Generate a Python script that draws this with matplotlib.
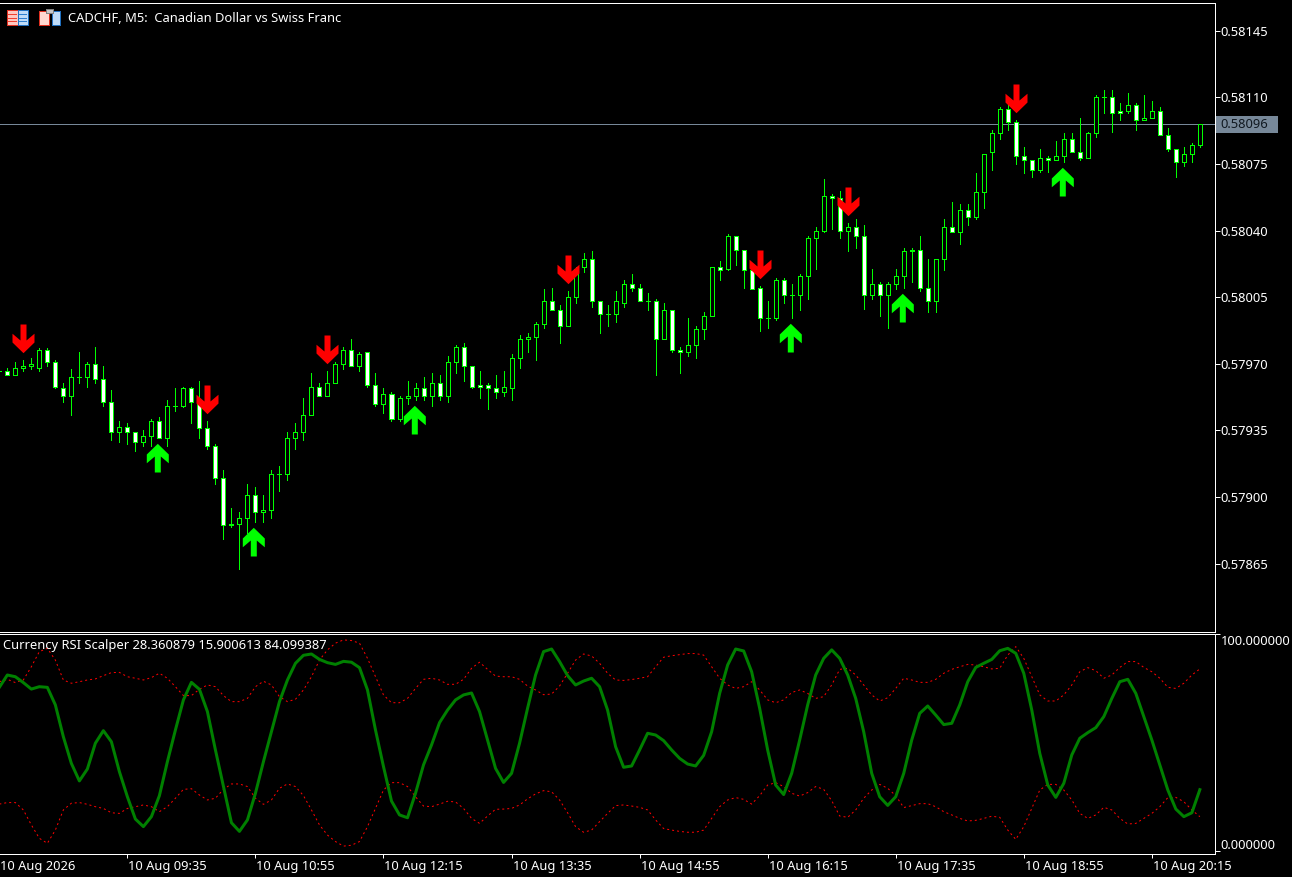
import matplotlib
matplotlib.use('Agg')
import matplotlib.pyplot as plt
import numpy as np
from matplotlib.patches import Rectangle
from matplotlib.path import Path

# Candles of CADCHF M5, in points (0.00001)
opens = [57966, 57966, 57964, 57968, 57969, 57968, 57977, 57971, 57957, 57953, 57963, 57963, 57970, 57962, 57950, 57934,
         57937, 57934, 57929, 57932, 57940, 57931, 57948, 57948, 57957, 57950, 57936, 57927, 57910, 57885, 57886, 57889,
         57901, 57892, 57893, 57912, 57912, 57931, 57934, 57943, 57958, 57953, 57960, 57970, 57977, 57969, 57976, 57959,
         57949, 57954, 57941, 57952, 57953, 57957, 57953, 57960, 57953, 57971, 57979, 57969, 57959, 57959, 57957, 57955,
         57957, 57973, 57983, 57984, 57991, 58003, 57998, 57990, 58005, 58021, 58025, 58003, 57996, 57996, 58002, 58012,
         58010, 58003, 58003, 57983, 57998, 57977, 57976, 57980, 57988, 57995, 58021, 58020, 58037, 58030, 58019, 58010,
         57994, 57994, 58014, 58006, 58006, 58016, 58036, 58040, 58058, 58057, 58040, 58042, 58037, 58006, 58012, 58006,
         58012, 58016, 58030, 58030, 58010, 58003, 58025, 58042, 58039, 58051, 58047, 58060, 58081, 58091, 58104, 58097,
         58079, 58077, 58072, 58078, 58077, 58079, 58088, 58081, 58078, 58091, 58110, 58110, 58103, 58103, 58106, 58098,
         58099, 58103, 58090, 58083, 58076, 58080, 58085]
highs = [57966, 57968, 57971, 57972, 57973, 57978, 57978, 57972, 57960, 57967, 57976, 57971, 57979, 57969, 57956, 57940,
         57939, 57934, 57935, 57941, 57942, 57951, 57957, 57958, 57958, 57961, 57940, 57928, 57914, 57894, 57892, 57907,
         57905, 57901, 57914, 57916, 57934, 57939, 57952, 57965, 57960, 57966, 57971, 57979, 57983, 57976, 57976, 57965,
         57957, 57955, 57953, 57961, 57960, 57963, 57965, 57964, 57974, 57980, 57981, 57969, 57966, 57960, 57964, 57966,
         57975, 57985, 57986, 57992, 58009, 58010, 58001, 58008, 58021, 58028, 58029, 58003, 58001, 58008, 58014, 58017,
         58012, 58007, 58004, 58002, 57998, 57979, 57994, 57990, 57997, 58021, 58024, 58038, 58037, 58030, 58023, 58011,
         58003, 58015, 58015, 58012, 58017, 58037, 58042, 58067, 58059, 58061, 58044, 58046, 58043, 58020, 58013, 58013,
         58020, 58031, 58031, 58037, 58025, 58025, 58046, 58055, 58054, 58054, 58070, 58080, 58093, 58105, 58106, 58098,
         58084, 58077, 58083, 58079, 58087, 58091, 58091, 58099, 58092, 58111, 58114, 58114, 58107, 58112, 58107, 58111,
         58108, 58105, 58094, 58083, 58084, 58086, 58096]
lows = [57966, 57964, 57964, 57966, 57967, 57966, 57969, 57957, 57950, 57943, 57960, 57958, 57960, 57948, 57930, 57929,
        57928, 57924, 57927, 57927, 57931, 57927, 57945, 57947, 57939, 57931, 57925, 57907, 57878, 57884, 57862, 57881,
        57887, 57887, 57889, 57903, 57909, 57925, 57930, 57943, 57953, 57953, 57960, 57967, 57969, 57966, 57958, 57948,
        57944, 57940, 57940, 57949, 57951, 57951, 57948, 57951, 57950, 57965, 57961, 57957, 57952, 57946, 57952, 57953,
        57951, 57968, 57976, 57972, 57989, 57998, 57981, 57990, 58002, 58018, 58000, 57986, 57990, 57992, 58000, 58008,
        58003, 57998, 57964, 57983, 57976, 57965, 57974, 57973, 57983, 57995, 58014, 58019, 58022, 58010, 58009, 57987,
        57989, 57993, 58002, 57994, 57998, 58004, 58020, 58039, 58041, 58036, 58029, 58031, 57999, 58004, 57995, 57989,
        58009, 58010, 58013, 58008, 57997, 57997, 58019, 58039, 58033, 58043, 58046, 58052, 58072, 58088, 58093, 58075,
        58070, 58068, 58071, 58071, 58077, 58076, 58081, 58077, 58078, 58089, 58102, 58092, 58098, 58102, 58093, 58098,
        58099, 58090, 58082, 58068, 58074, 58076, 58084]
closes = [57966, 57964, 57968, 57969, 57970, 57977, 57971, 57958, 57953, 57963, 57963, 57970, 57962, 57950, 57934, 57937,
          57934, 57929, 57932, 57940, 57931, 57948, 57948, 57957, 57950, 57936, 57927, 57910, 57885, 57886, 57889, 57901,
          57892, 57893, 57912, 57912, 57931, 57934, 57943, 57958, 57953, 57960, 57970, 57977, 57969, 57975, 57959, 57949,
          57954, 57941, 57952, 57953, 57957, 57953, 57960, 57953, 57971, 57979, 57969, 57958, 57958, 57957, 57955, 57958,
          57973, 57983, 57984, 57991, 58003, 57998, 57990, 58005, 58020, 58025, 58003, 57996, 57996, 58003, 58012, 58010,
          58003, 58003, 57983, 57998, 57977, 57976, 57980, 57988, 57995, 58021, 58019, 58037, 58030, 58019, 58009, 57994,
          57994, 58014, 58006, 58006, 58016, 58036, 58040, 58058, 58057, 58040, 58042, 58037, 58006, 58012, 58006, 58012,
          58016, 58029, 58029, 58010, 58003, 58025, 58042, 58039, 58051, 58047, 58060, 58080, 58091, 58104, 58097, 58079,
          58077, 58072, 58078, 58077, 58079, 58088, 58081, 58078, 58091, 58110, 58110, 58102, 58102, 58106, 58098, 58099,
          58103, 58090, 58083, 58076, 58080, 58085, 58096]

# Indicator buffers, 0..100
rsi_line = [75.6, 81.3, 80.5, 77.8, 74.8, 75.9, 75.6, 67.5, 52.8, 40.5, 32.4, 37.9, 49.8, 55.6, 50.5, 36.7, 25.1, 14.8,
            11.3, 15.9, 25.6, 41.3, 55.9, 69.8, 77.9, 74.7, 64.4, 46.7, 29.8, 13.1, 9.1, 14.4, 26.7, 41.3, 55.1, 69.0,
            79.0, 86.7, 90.4, 91.0, 88.5, 87.0, 86.2, 87.6, 87.2, 84.7, 74.4, 55.9, 39.0, 23.1, 16.7, 15.4, 26.7, 39.8,
            49.0, 59.3, 65.1, 69.8, 72.1, 73.0, 64.4, 51.3, 38.2, 31.7, 35.9, 49.8, 65.9, 81.3, 92.1, 93.3, 87.5, 81.0,
            76.7, 78.5, 79.8, 75.9, 65.1, 48.2, 38.7, 39.3, 46.7, 54.4, 53.6, 51.0, 46.7, 42.8, 40.2, 39.3, 44.2, 55.1,
            72.8, 85.9, 93.3, 92.4, 82.8, 65.9, 46.7, 30.5, 26.1, 35.9, 51.3, 67.5, 81.3, 89.0, 92.9, 89.0, 81.3, 70.5,
            55.1, 35.9, 25.1, 21.1, 25.1, 35.9, 51.3, 63.6, 67.0, 62.8, 58.4, 59.0, 67.5, 78.2, 84.8, 86.7, 88.5, 92.5,
            93.6, 91.3, 82.1, 65.1, 45.1, 30.5, 24.8, 31.3, 44.4, 52.1, 54.7, 57.0, 62.1, 70.5, 78.2, 79.3, 72.8, 62.1,
            51.3, 39.8, 28.2, 19.4, 15.9, 17.7, 28.360879]
upper_band = [78.2, 79.3, 77.8, 79.0, 85.1, 92.1, 93.6, 88.2, 79.0, 77.5, 78.2, 79.0, 79.5, 81.0, 82.4, 82.5, 80.5, 79.8,
              79.0, 80.1, 82.1, 79.8, 75.9, 71.8, 71.8, 74.7, 76.7, 75.9, 71.8, 69.0, 69.0, 70.5, 75.9, 78.4, 76.7, 71.3,
              69.0, 70.1, 74.4, 80.5, 88.2, 92.9, 96.0, 97.5, 97.2, 96.0, 89.0, 80.5, 72.1, 68.5, 68.5, 70.5, 75.1, 79.3,
              79.8, 79.0, 77.0, 77.0, 79.3, 84.4, 87.2, 83.9, 80.8, 80.5, 80.5, 79.3, 76.2, 74.4, 72.2, 72.5, 76.2, 82.1,
              88.2, 91.0, 90.1, 86.7, 82.1, 79.0, 78.8, 79.2, 79.8, 80.5, 85.1, 89.5, 90.2, 90.7, 91.2, 91.2, 90.5, 85.1,
              79.8, 76.7, 75.1, 75.9, 78.2, 74.4, 69.8, 68.5, 69.8, 73.2, 74.4, 72.8, 70.5, 71.3, 76.7, 83.9, 84.4, 81.3,
              76.7, 72.1, 69.3, 70.8, 75.1, 79.8, 79.0, 77.9, 77.9, 79.3, 82.1, 83.9, 85.1, 86.2, 85.9, 85.1, 84.1, 84.4,
              90.5, 94.4, 89.0, 80.5, 72.1, 69.3, 69.3, 72.1, 76.7, 82.8, 84.7, 83.3, 79.8, 81.3, 84.8, 87.5, 87.5, 84.8,
              82.8, 79.8, 75.6, 75.1, 77.5, 81.3, 84.099387]
lower_band = [21.7, 22.4, 22.4, 19.0, 12.1, 5.9, 3.6, 9.7, 19.0, 22.1, 22.4, 21.6, 20.5, 19.7, 17.7, 17.4, 19.7, 20.5,
              21.3, 20.5, 18.2, 20.5, 24.4, 28.5, 28.8, 25.9, 23.6, 24.4, 28.5, 31.0, 31.0, 29.8, 24.4, 21.6, 23.6, 29.0,
              31.0, 29.8, 25.6, 19.0, 12.1, 7.4, 4.4, 2.3, 2.7, 4.4, 11.3, 19.7, 28.2, 31.6, 31.6, 29.8, 25.1, 20.8,
              20.5, 21.7, 23.0, 22.7, 19.7, 15.1, 12.8, 16.2, 19.3, 19.4, 19.7, 21.3, 24.1, 26.4, 27.9, 27.4, 23.6, 17.7,
              11.3, 8.7, 9.7, 13.6, 17.4, 21.0, 21.3, 20.8, 20.2, 19.0, 14.4, 10.4, 9.7, 9.1, 8.7, 8.7, 9.7, 15.1,
              20.5, 23.6, 24.7, 23.9, 21.7, 25.6, 30.5, 31.6, 29.8, 26.7, 25.4, 27.0, 29.8, 28.5, 23.3, 16.2, 15.6, 19.0,
              24.4, 28.2, 30.8, 29.0, 25.6, 20.1, 21.0, 21.9, 21.9, 20.5, 18.2, 16.7, 15.1, 13.9, 14.2, 15.1, 16.1, 15.6,
              9.7, 5.4, 11.3, 19.7, 28.2, 30.8, 30.8, 28.2, 23.6, 17.4, 15.1, 16.7, 20.2, 19.0, 15.1, 12.5, 12.8, 15.1,
              17.4, 20.5, 24.7, 24.8, 22.8, 19.0, 15.900613]

# Bars that carry a signal arrow
sell_bars = [3, 26, 41, 71, 95, 106, 127]
buy_bars = [20, 32, 52, 99, 113, 133]

price_ticks = [0.58145, 0.58110, 0.58075, 0.58040, 0.58005, 0.57970, 0.57935, 0.57900, 0.57865]
bid_price = 0.58096
time_tick_bars = [0, 16, 32, 48, 64, 80, 96, 112, 128, 144]
time_labels = ['10 Aug 2026', '10 Aug 09:35', '10 Aug 10:55', '10 Aug 12:15', '10 Aug 13:35',
               '10 Aug 14:55', '10 Aug 16:15', '10 Aug 17:35', '10 Aug 18:55', '10 Aug 20:15']

WIDTH, HEIGHT, DPI = 1292, 877, 100
LIME = '#00ff00'
GREY = '#778899'
FONT = 'Noto Sans'
FONT_SIZE = 9.3
PX = 72 / DPI  # one pixel in points

plt.rcParams['font.family'] = FONT


def axes_box(left, top, right, bottom):
    """Axes rectangle in figure fractions from pixel edges."""
    return [left / WIDTH, 1 - bottom / HEIGHT, (right - left) / WIDTH, (bottom - top) / HEIGHT]


def add_box(fig, x0, y0, x1, y1, face, edge='none', zorder=-1):
    fig.add_artist(Rectangle((x0 / WIDTH, 1 - y1 / HEIGHT), (x1 - x0) / WIDTH, (y1 - y0) / HEIGHT,
                             transform=fig.transFigure, facecolor=face, edgecolor=edge, linewidth=PX,
                             antialiased=False, zorder=zorder))


def arrow_marker(gap, dx=0.0, direction=1):
    """Arrow path in pixels. Its tip sits gap pixels from the anchor. direction 1 = above, pointing down."""
    outline = np.array([(0, 0), (11, 10.7), (11, 19.5), (3, 12.7), (3, 28.7),
                        (-3, 28.7), (-3, 12.7), (-11, 19.5), (-11, 10.7), (0, 0)])
    verts = np.column_stack([outline[:, 0] + dx, direction * (outline[:, 1] + gap)])
    # markers get scaled to their largest coordinate, so work out the size that keeps pixels
    size = 2 * np.abs(verts).max() * PX
    return Path(verts, closed=True), size


def style_axes(ax):
    ax.set_facecolor('black')
    ax.yaxis.tick_right()
    ax.spines['left'].set_visible(False)
    for side in ('top', 'right', 'bottom'):
        ax.spines[side].set_color('white')
        ax.spines[side].set_linewidth(PX)
    ax.tick_params(axis='y', colors='white', length=5 * PX, width=PX, pad=PX, labelsize=FONT_SIZE)


fig = plt.figure(figsize=(WIDTH / DPI, HEIGHT / DPI), dpi=DPI, facecolor='black')
ax_price = fig.add_axes(axes_box(0, 2.5, 1214.5, 631.5))
ax_rsi = fig.add_axes(axes_box(0, 633.5, 1214.5, 853.5))
style_axes(ax_price)
style_axes(ax_rsi)

o = np.array(opens) / 1e5
h = np.array(highs) / 1e5
l = np.array(lows) / 1e5
c = np.array(closes) / 1e5
bars = np.arange(len(o))
falling = c < o

# Candles
ax_price.vlines(bars, l, h, colors=LIME, linewidth=PX, antialiased=False, zorder=2)
ax_price.bar(bars, c - o, bottom=o, width=0.5, color=np.where(falling, 'white', 'black'), edgecolor=LIME,
             linewidth=PX, antialiased=False, zorder=3)
ax_price.axhline(bid_price, color=GREY, linewidth=PX, zorder=1)

# Signal arrows
sell_path, sell_size = arrow_marker(7.3)
buy_path, buy_size = arrow_marker(5.3, dx=-1.7, direction=-1)
ax_price.plot(bars[sell_bars], h[sell_bars], linestyle='none', marker=sell_path, markersize=sell_size,
              markerfacecolor='#ff0000', markeredgecolor='none', zorder=4)
ax_price.plot(bars[buy_bars], l[buy_bars], linestyle='none', marker=buy_path, markersize=buy_size,
              markerfacecolor=LIME, markeredgecolor='none', zorder=4)

ax_price.set_xlim(0.084, 151.83)
ax_price.set_ylim(0.578293, 0.581598)
ax_price.set_xticks([])
ax_price.set_yticks(price_ticks)
ax_price.set_yticklabels([f'{p:.5f}' for p in price_ticks])

# Bid label on the price scale
add_box(fig, 1216, 116, 1278, 133, GREY)
ax_price.annotate(f'{bid_price:.5f}', xy=(1, bid_price), xycoords=('axes fraction', 'data'), xytext=(5.5, -0.5),
                  textcoords='offset pixels', va='center', ha='left', color='#101820', fontsize=FONT_SIZE,
                  annotation_clip=False)

# Indicator window
ax_rsi.plot(bars, upper_band, color='#ff0000', linewidth=PX, linestyle=(0, (2, 3)), zorder=2)
ax_rsi.plot(bars, lower_band, color='#ff0000', linewidth=PX, linestyle=(0, (2, 3)), zorder=2)
ax_rsi.plot(bars, rsi_line, color='#008000', linewidth=3 * PX, zorder=3)
ax_rsi.set_xlim(0.084, 151.83)
ax_rsi.set_ylim(-1.11, 100.46)
ax_rsi.set_yticks([0, 100])
ax_rsi.set_yticklabels([])
ax_rsi.annotate('100.000000', xy=(1, 100), xycoords=('axes fraction', 'data'), xytext=(6, -7),
                textcoords='offset pixels', va='center', color='white', fontsize=FONT_SIZE, annotation_clip=False)
ax_rsi.annotate('0.000000', xy=(1, 0), xycoords=('axes fraction', 'data'), xytext=(6, 6),
                textcoords='offset pixels', va='center', color='white', fontsize=FONT_SIZE, annotation_clip=False)

# Time scale: tick marks, labels start just right of them
ax_rsi.set_xticks(time_tick_bars[1:])
ax_rsi.set_xticklabels([])
ax_rsi.tick_params(axis='x', colors='white', length=4 * PX, width=PX)
for bar, label in zip(time_tick_bars, time_labels):
    ax_rsi.annotate(label, xy=(bar, 0), xycoords=('data', 'axes fraction'), xytext=(1, -13),
                    textcoords='offset pixels', va='center', ha='left', color='white', fontsize=FONT_SIZE,
                    annotation_clip=False)

# Window captions
fig.text(68 / WIDTH, 1 - 19 / HEIGHT, 'CADCHF, M5:  Canadian Dollar vs Swiss Franc', color='white',
         fontsize=FONT_SIZE, va='center', ha='left')
fig.text(3 / WIDTH, 1 - 645 / HEIGHT, 'Currency RSI Scalper 28.360879 15.900613 84.099387', color='white',
         fontsize=FONT_SIZE, va='center', ha='left')

# The two toolbar icons
add_box(fig, 7, 10, 18, 25, '#ffc8c0', '#e03020', zorder=5)
add_box(fig, 18, 10, 28, 25, '#c0dcf8', '#2070c0', zorder=5)
for row in (14, 18, 21):
    add_box(fig, 8, row, 17, row + 1, '#f04030', zorder=6)
    add_box(fig, 19, row, 27, row + 1, '#3080d0', zorder=6)
add_box(fig, 39, 11, 49, 25, '#ffd8d0', '#e03020', zorder=5)
add_box(fig, 52, 11, 60, 25, '#c0dcf8', '#2070c0', zorder=5)
add_box(fig, 46, 9, 53, 13, '#c8c8c8', '#808080', zorder=6)

fig.savefig('out.png', dpi=DPI, facecolor='black')
